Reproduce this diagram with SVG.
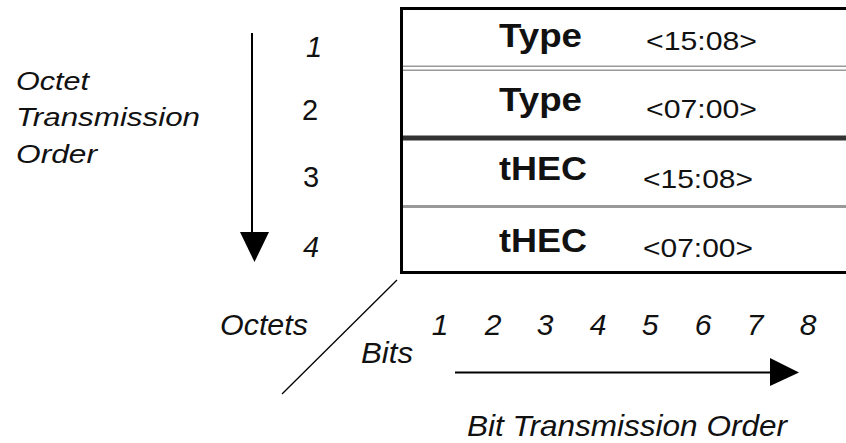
<svg xmlns="http://www.w3.org/2000/svg" width="846" height="443" viewBox="0 0 846 443">
  <style>
    text { font-family: "Liberation Sans", Arial, sans-serif; fill: #111; }
    .it { font-style: italic; }
    .lbl { font-size: 33px; font-weight: bold; }
    .bits { font-size: 25px; }
    .num { font-size: 29px; }
    .side { font-size: 25px; font-style: italic; }
    .bot { font-size: 30px; font-style: italic; }
  </style>
  <defs>
    <marker id="arr" markerWidth="10" markerHeight="10" refX="0" refY="5" orient="auto" markerUnits="userSpaceOnUse" viewBox="0 0 10 10">
      <path d="M0,0 L10,5 L0,10 Z" fill="#000"/>
    </marker>
  </defs>
  <rect width="846" height="443" fill="#fff"/>

  <g id="frame">
    <line x1="401.5" y1="8.5" x2="860" y2="8.5" stroke="#000" stroke-width="3"/>
    <line x1="401.5" y1="7" x2="401.5" y2="274" stroke="#000" stroke-width="3"/>
    <line x1="400" y1="272.5" x2="860" y2="272.5" stroke="#000" stroke-width="3"/>
    <line x1="403" y1="66.3" x2="860" y2="66.3" stroke="#999" stroke-width="1.6"/>
    <line x1="403" y1="70.3" x2="860" y2="70.3" stroke="#999" stroke-width="1.6"/>
    <line x1="403" y1="138" x2="860" y2="138" stroke="#333" stroke-width="5"/>
    <line x1="403" y1="206.5" x2="860" y2="206.5" stroke="#999" stroke-width="3"/>
  </g>

  <g id="row1">
    <text class="lbl" x="499" y="47" textLength="83" lengthAdjust="spacingAndGlyphs">Type</text>
    <text class="bits" x="646" y="50" textLength="111" lengthAdjust="spacingAndGlyphs">&lt;15:08&gt;</text>
  </g>
  <g id="row2">
    <text class="lbl" x="499" y="111" textLength="83" lengthAdjust="spacingAndGlyphs">Type</text>
    <text class="bits" x="646" y="118" textLength="111" lengthAdjust="spacingAndGlyphs">&lt;07:00&gt;</text>
  </g>
  <g id="row3">
    <text class="lbl" x="499" y="180" textLength="88" lengthAdjust="spacingAndGlyphs">tHEC</text>
    <text class="bits" x="643" y="188" textLength="110" lengthAdjust="spacingAndGlyphs">&lt;15:08&gt;</text>
  </g>
  <g id="row4">
    <text class="lbl" x="499" y="252" textLength="88" lengthAdjust="spacingAndGlyphs">tHEC</text>
    <text class="bits" x="643" y="257" textLength="110" lengthAdjust="spacingAndGlyphs">&lt;07:00&gt;</text>
  </g>

  <g id="octet-numbers">
    <text class="num it" x="306" y="57">1</text>
    <text class="num" x="302" y="120">2</text>
    <text class="num" x="303" y="187">3</text>
    <text class="num it" x="303" y="257">4</text>
  </g>

  <g id="octet-order-label">
    <text class="side" x="16" y="90" textLength="73" lengthAdjust="spacingAndGlyphs">Octet</text>
    <text class="side" x="16" y="126" textLength="184" lengthAdjust="spacingAndGlyphs">Transmission</text>
    <text class="side" x="16" y="163" textLength="81" lengthAdjust="spacingAndGlyphs">Order</text>
  </g>

  <g id="bottom-labels">
    <text class="bot" x="220" y="335" textLength="88" lengthAdjust="spacingAndGlyphs">Octets</text>
    <text class="bot" x="361" y="363" textLength="52" lengthAdjust="spacingAndGlyphs">Bits</text>
    <text class="bot" x="467" y="436" textLength="320" lengthAdjust="spacingAndGlyphs">Bit Transmission Order</text>
  </g>

  <g id="bit-numbers" text-anchor="middle">
    <text class="bot" x="440" y="335">1</text>
    <text class="bot" x="493" y="335">2</text>
    <text class="bot" x="545" y="335">3</text>
    <text class="bot" x="598" y="335">4</text>
    <text class="bot" x="650" y="335">5</text>
    <text class="bot" x="703" y="335">6</text>
    <text class="bot" x="755" y="335">7</text>
    <text class="bot" x="808" y="335">8</text>
  </g>

  <g id="connectors">
    <line x1="252" y1="33" x2="252" y2="234" stroke="#000" stroke-width="2"/>
    <path d="M240,232 L269,232 L254.5,262 Z" fill="#000"/>
    <line x1="455" y1="372.5" x2="772" y2="372.5" stroke="#000" stroke-width="2"/>
    <path d="M770,358 L799,372.5 L770,386 Z" fill="#000"/>
    <line x1="397" y1="280" x2="282" y2="394" stroke="#000" stroke-width="1.3"/>
  </g>
</svg>
